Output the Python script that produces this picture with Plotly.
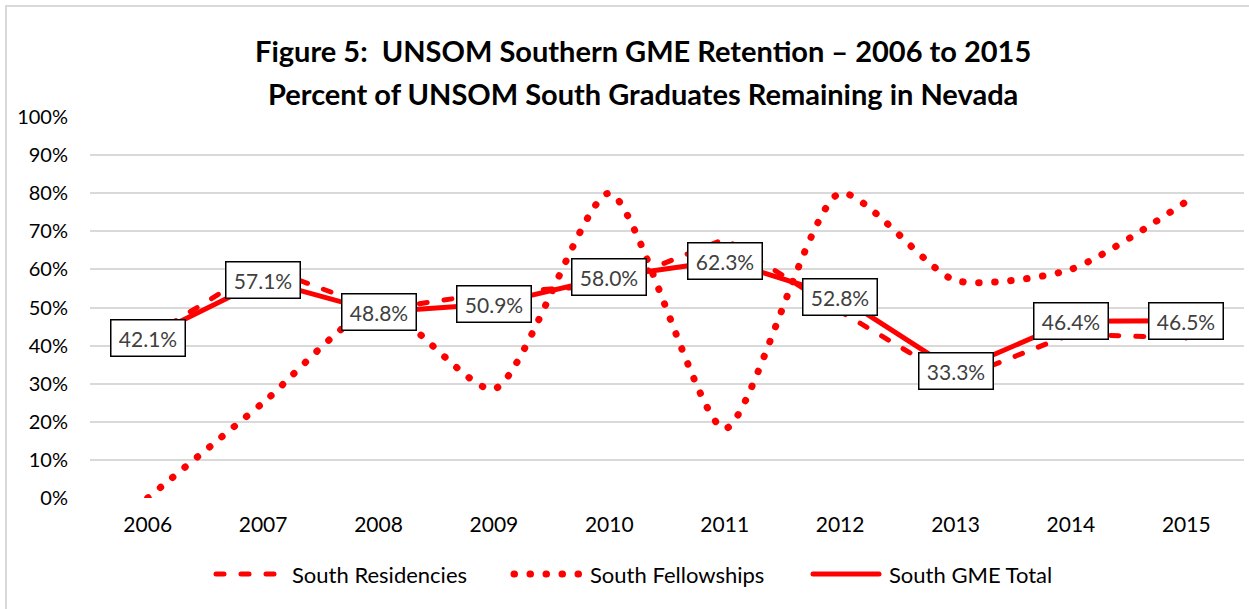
import plotly.graph_objects as go

years = ["2006", "2007", "2008", "2009", "2010", "2011", "2012", "2013", "2014", "2015"]
residencies = [42.0, 60.7, 49.4, 53.9, 55.8, 68.0, 49.0, 31.0, 43.0, 42.0]
fellowships = [0.0, 25.0, 50.0, 28.6, 80.0, 18.2, 80.0, 57.1, 60.0, 77.8]
gme_total = [42.1, 57.1, 48.8, 50.9, 58.0, 62.3, 52.8, 33.3, 46.4, 46.5]
y_ticks = [0, 10, 20, 30, 40, 50, 60, 70, 80, 90, 100]
series_names = ["South Residencies", "South Fellowships", "South GME Total"]

RED = "#FF0000"
FONT = "Lato"
RES_DASH = "8px,17px"
FEL_DASH = "0.5px,15.5px"

fig = go.Figure()
fig.add_trace(go.Scatter(x=years, y=residencies, name=series_names[0], mode="lines",
                         line=dict(color=RED, width=5, dash=RES_DASH)))
fig.add_trace(go.Scatter(x=years, y=fellowships, name=series_names[1], mode="lines",
                         line=dict(color=RED, width=7, dash=FEL_DASH, shape="spline", smoothing=0.65)))
fig.add_trace(go.Scatter(x=years, y=gme_total, name=series_names[2], mode="lines",
                         line=dict(color=RED, width=5)))

for i, v in enumerate(gme_total):
    fig.add_annotation(x=i, y=v, xref="x", yref="y", text=f"{v:.1f}%", showarrow=False,
                       font=dict(family=FONT, size=21, color="#404040"),
                       bgcolor="white", bordercolor="black", borderwidth=1.5, borderpad=5,
                       width=63, height=25)

W, H = 1249, 609
L, R, T, B = 90, 5, 117, 111
pw, ph = W - L - R, H - T - B

def px(x):
    return (x - L) / pw

def py(y):
    return (H - B - y) / ph

fig.add_annotation(x=px(643), y=py(50), xref="paper", yref="paper", showarrow=False,
                   text="<b>Figure 5:  UNSOM Southern GME Retention \u2013 2006 to 2015</b>",
                   font=dict(family=FONT, size=29, color="black"), xanchor="center", yanchor="middle")
fig.add_annotation(x=px(643), y=py(94), xref="paper", yref="paper", showarrow=False,
                   text="<b>Percent of UNSOM South Graduates Remaining in Nevada</b>",
                   font=dict(family=FONT, size=29, color="black"), xanchor="center", yanchor="middle")

# legend (wide symbols like the original)
leg_y = py(574)
leg_items = [
    (213, 280, 290, dict(color=RED, width=5, dash=RES_DASH)),
    (511, 584, 588, dict(color=RED, width=7, dash=FEL_DASH)),
    (810, 882, 887, dict(color=RED, width=5)),
]
for name, (x0, x1, xt, ln) in zip(series_names, leg_items):
    fig.add_shape(type="line", xref="paper", yref="paper", x0=px(x0 + 3), x1=px(x1 - 3),
                  y0=leg_y, y1=leg_y, line=ln)
    fig.add_annotation(x=px(xt), y=leg_y, xref="paper", yref="paper", showarrow=False,
                       text=name, xanchor="left", yanchor="middle",
                       font=dict(family=FONT, size=22, color="black"))

# chart-area border (left and top edges visible)
fig.add_shape(type="line", xref="paper", yref="paper", x0=px(6), x1=px(6), y0=py(6), y1=py(640),
              line=dict(color="#D9D9D9", width=2))
fig.add_shape(type="line", xref="paper", yref="paper", x0=px(6), x1=px(1260), y0=py(6), y1=py(6),
              line=dict(color="#D9D9D9", width=2))

fig.update_layout(
    width=W, height=H,
    margin=dict(l=L, r=R, t=T, b=B, autoexpand=False),
    paper_bgcolor="white", plot_bgcolor="white",
    font=dict(family=FONT, size=20, color="black"),
    showlegend=False,
    xaxis=dict(type="category", range=[-0.5, 9.5], showgrid=False, zeroline=False, showline=False,
               ticks="", tickfont=dict(family=FONT, size=21, color="black"), ticklabelstandoff=12),
    yaxis=dict(range=[0, 100], tickvals=y_ticks, ticktext=[f"{t}%" for t in y_ticks],
               showgrid=True, gridcolor="#D9D9D9", gridwidth=1.5, zeroline=False, showline=False,
               ticks="", tickfont=dict(family=FONT, size=20, color="black"), ticklabelstandoff=21),
)

post = """
document.body.style.margin = '0';
document.body.style.padding = '0';
var gd = document.getElementById('{plot_id}');
function fixcaps(){
  gd.querySelectorAll('path.js-line').forEach(function(p){ p.style.strokeLinecap = 'round'; });
  gd.querySelectorAll('.shapelayer path').forEach(function(p){ p.style.strokeLinecap = 'round'; });
}
fixcaps();
if (gd.on) gd.on('plotly_afterplot', fixcaps);
setTimeout(fixcaps, 50);
setTimeout(fixcaps, 300);
"""

fig.write_html("out.html", post_script=post, config={"displayModeBar": False})
